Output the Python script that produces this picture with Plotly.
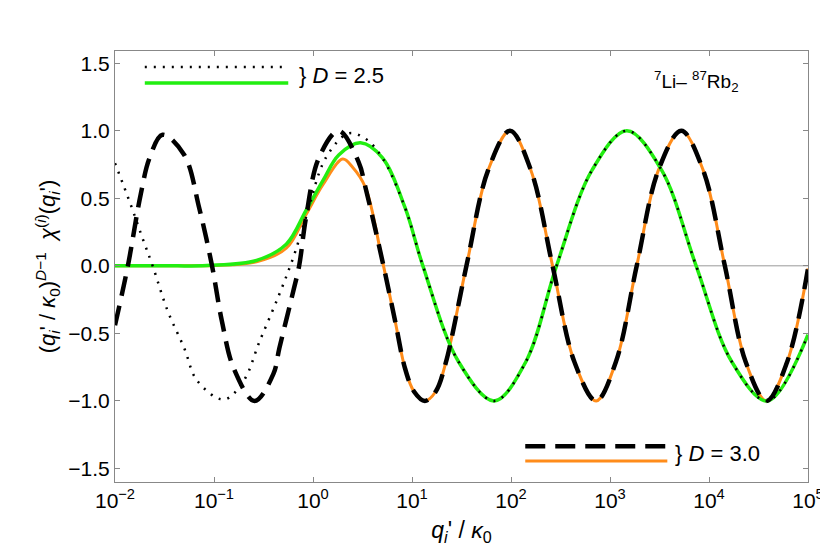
import numpy as np
import plotly.graph_objects as go

# log10(q'/kappa0) sample positions and values
d3_orange_logx = [-2, -1.5, -1.0, -0.57, -0.27, -0.07, 0.1, 0.3, 0.4, 0.53, 0.7, 0.83, 0.93, 1.02, 1.13, 1.24, 1.34, 1.55, 1.77, 1.99, 2.2, 2.42, 2.64, 2.86, 3.06, 3.27, 3.49, 3.72, 3.94, 4.16, 4.37, 4.58, 4.79, 5.0]
d3_orange_y    = [0, 0, 0.003, 0.03, 0.13, 0.38, 0.6, 0.79, 0.73, 0.58, 0.04, -0.41, -0.76, -0.93, -1.0, -0.93, -0.72, 0, 0.71, 1.0, 0.71, 0, -0.71, -1.0, -0.71, 0, 0.71, 1.0, 0.71, 0, -0.71, -1.0, -0.71, -0.02]

d3_dash_logx = [-2, -1.87, -1.74, -1.65, -1.52, -1.3, -1.15, -1.02, -0.92, -0.8, -0.59, -0.4, -0.34, -0.2, -0.14, -0.07, 0.06, 0.26, 0.46, 0.53, 0.7, 0.83, 0.93, 1.02, 1.13, 1.24, 1.34, 1.55, 1.77, 1.99, 2.2, 2.42, 2.64, 2.86, 3.06, 3.27, 3.49, 3.72, 3.94, 4.16, 4.37, 4.58, 4.79, 5.0]
d3_dash_y    = [-0.44, 0, 0.53, 0.8, 0.97, 0.82, 0.43, 0, -0.41, -0.76, -1.0, -0.8, -0.61, -0.19, 0.0, 0.36, 0.8, 1.0, 0.77, 0.58, 0.04, -0.41, -0.76, -0.93, -1.0, -0.93, -0.72, 0, 0.71, 1.0, 0.71, 0, -0.71, -1.0, -0.71, 0, 0.71, 1.0, 0.71, 0, -0.71, -1.0, -0.71, -0.02]

d25_green_logx = [-2, -1.5, -1.07, -0.57, -0.27, -0.07, 0.1, 0.26, 0.48, 0.7, 0.93, 1.11, 1.47, 1.83, 2.15, 2.46, 2.82, 3.17, 3.52, 3.87, 4.23, 4.59, 5.0]
d25_green_y    = [0, 0, 0.003, 0.04, 0.16, 0.41, 0.63, 0.82, 0.91, 0.8, 0.43, 0, -0.71, -1.0, -0.71, 0, 0.71, 1.0, 0.71, 0, -0.71, -1.0, -0.51]

d25_dot_logx = [-2, -1.84, -1.72, -1.62, -1.47, -1.3, -1.17, -0.9, -0.7, -0.54, -0.34, -0.2, -0.07, 0.13, 0.36, 0.53, 0.7, 0.93, 1.11, 1.47, 1.83, 2.15, 2.46, 2.82, 3.17, 3.52, 3.87, 4.23, 4.59, 5.0]
d25_dot_y    = [0.76, 0.45, 0.2, 0, -0.33, -0.61, -0.85, -0.99, -0.85, -0.56, -0.21, 0.06, 0.36, 0.8, 0.98, 0.94, 0.8, 0.43, 0, -0.71, -1.0, -0.71, 0, 0.71, 1.0, 0.71, 0, -0.71, -1.0, -0.51]

xtick_vals = [1e-2, 1e-1, 1e0, 1e1, 1e2, 1e3, 1e4, 1e5]
xtick_text = ["10<sup>−2</sup>", "10<sup>−1</sup>", "10<sup>0</sup>", "10<sup>1</sup>",
              "10<sup>2</sup>", "10<sup>3</sup>", "10<sup>4</sup>", "10<sup>5</sup>"]
ytick_vals = [-1.5, -1.0, -0.5, 0.0, 0.5, 1.0, 1.5]
ytick_text = ["−1.5", "−1.0", "−0.5", "0.0", "0.5", "1.0", "1.5"]

ORANGE = "#FF8C1A"
GREEN = "#22EE11"
FONT = "Liberation Sans"
DASH = "20px,10px"
DOT = "2px,7px"

def xs(l):
    return 10 ** np.array(l, dtype=float)

fig = go.Figure()
fig.add_trace(go.Scatter(x=xs(d3_orange_logx), y=d3_orange_y, mode="lines",
                         line=dict(color=ORANGE, width=3, shape="spline", smoothing=1.0)))
fig.add_trace(go.Scatter(x=xs(d25_green_logx), y=d25_green_y, mode="lines",
                         line=dict(color=GREEN, width=3.5, shape="spline", smoothing=1.0)))
fig.add_trace(go.Scatter(x=xs(d3_dash_logx), y=d3_dash_y, mode="lines",
                         line=dict(color="black", width=4.5, dash=DASH, shape="spline", smoothing=1.0)))
fig.add_trace(go.Scatter(x=xs(d25_dot_logx), y=d25_dot_y, mode="lines",
                         line=dict(color="black", width=2.5, dash=DOT, shape="spline", smoothing=1.0)))

shapes = [
    dict(type="line", xref="x", yref="y", x0=1e-2, x1=1e5, y0=0, y1=0,
         line=dict(color="#999999", width=1), layer="below"),
    dict(type="line", xref="paper", yref="paper", x0=0.043, x1=0.25, y0=0.963, y1=0.963,
         line=dict(color="black", width=2.5, dash=DOT)),
    dict(type="line", xref="paper", yref="paper", x0=0.043, x1=0.25, y0=0.926, y1=0.926,
         line=dict(color=GREEN, width=3.5)),
    dict(type="line", xref="paper", yref="paper", x0=0.592, x1=0.797, y0=0.083, y1=0.083,
         line=dict(color="black", width=4.5, dash=DASH)),
    dict(type="line", xref="paper", yref="paper", x0=0.592, x1=0.797, y0=0.049, y1=0.049,
         line=dict(color=ORANGE, width=3)),
]

annotations = [
    dict(xref="paper", yref="paper", x=0.262, y=0.944, xanchor="left", yanchor="middle",
         text="} <i>D</i> = 2.5", showarrow=False, font=dict(family=FONT, size=22, color="black")),
    dict(xref="paper", yref="paper", x=0.805, y=0.066, xanchor="left", yanchor="middle",
         text="} <i>D</i> = 3.0", showarrow=False, font=dict(family=FONT, size=22, color="black")),
    dict(xref="paper", yref="paper", x=0.775, y=0.93, xanchor="left", yanchor="middle",
         text="<sup>7</sup>Li– <sup>87</sup>Rb<sub>2</sub>", showarrow=False,
         font=dict(family=FONT, size=19, color="black")),
]

fig.update_layout(
    width=828, height=555,
    margin=dict(l=107, r=22, t=43, b=81),
    paper_bgcolor="white", plot_bgcolor="white",
    showlegend=False,
    shapes=shapes, annotations=annotations,
    font=dict(family=FONT, size=20, color="black"),
)
fig.update_xaxes(type="log", range=[-2, 5], tickvals=xtick_vals, ticktext=xtick_text,
                 ticks="inside", ticklen=5, tickcolor="#888", showgrid=False, zeroline=False,
                 showline=True, linecolor="#888", linewidth=1, mirror="ticks",
                 tickfont=dict(family=FONT, size=21),
                 title=dict(text="<i>q<sub>i</sub></i>' / <i>κ</i><sub>0</sub>",
                            font=dict(family=FONT, size=23), standoff=10))
fig.update_yaxes(range=[-1.6, 1.59], tickvals=ytick_vals, ticktext=ytick_text,
                 ticks="inside", ticklen=5, tickcolor="#888", showgrid=False, zeroline=False,
                 showline=True, linecolor="#888", linewidth=1, mirror="ticks",
                 tickfont=dict(family=FONT, size=21),
                 title=dict(text="(<i>q<sub>i</sub></i>' / <i>κ</i><sub>0</sub>)<sup><i>D</i>−1</sup>  <i>χ</i><sup>(<i>i</i>)</sup>(<i>q<sub>i</sub></i>')",
                            font=dict(family=FONT, size=22), standoff=6))

fig.write_html("out.html")
